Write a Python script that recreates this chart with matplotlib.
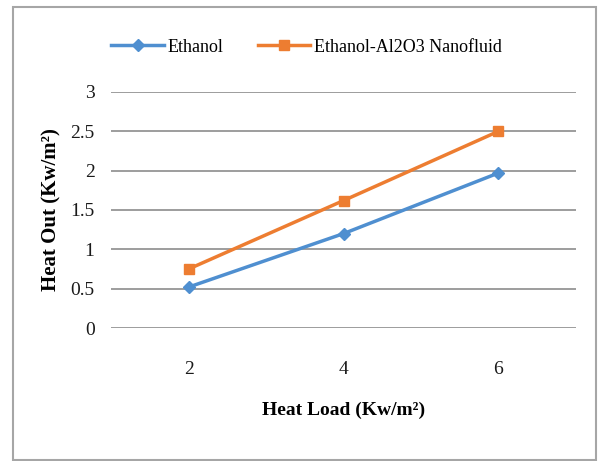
import matplotlib.pyplot as plt
from matplotlib.patches import Rectangle

plt.rcParams['font.family'] = ['Liberation Serif', 'DejaVu Serif']

heat_load = ['2', '4', '6']
ethanol = [0.52, 1.20, 1.97]
nanofluid = [0.75, 1.62, 2.50]

fig = plt.figure(figsize=(5.98, 4.61), dpi=100)
ax = fig.add_axes([0.186, 0.2885, 0.777, 0.512])

# outer chart border
fig.patches.append(Rectangle((13 / 598, 1 / 461), 583 / 598, 453 / 461,
                             transform=fig.transFigure, fill=False,
                             edgecolor='#a6a6a6', linewidth=1.5))

x = range(len(heat_load))
ax.plot(x, ethanol, color='#4f8fd0', linewidth=2.5, marker='D',
        markersize=6.5, label='Ethanol')
ax.plot(x, nanofluid, color='#ed7d31', linewidth=2.5, marker='s',
        markersize=7.5, label='Ethanol-Al2O3 Nanofluid')

ax.set_xlim(-0.5, 2.5)
ax.set_ylim(0, 3)
ax.set_xticks(list(x))
ax.set_xticklabels(heat_load)
ax.set_yticks([0, 0.5, 1, 1.5, 2, 2.5, 3])
ax.set_yticklabels(['0', '0.5', '1', '1.5', '2', '2.5', '3'])
ax.grid(axis='y', color='#8c8c8c', linewidth=1.2)
ax.set_axisbelow(True)
for s in ax.spines.values():
    s.set_visible(False)
ax.tick_params(length=0, labelsize=14, colors='#1a1a1a')
ax.tick_params(axis='x', pad=24)
ax.tick_params(axis='y', pad=12)

ax.set_xlabel('Heat Load (Kw/m²)', fontsize=14, fontweight='bold', labelpad=17)
ax.set_ylabel('Heat Out (Kw/m²)', fontsize=15, fontweight='bold', labelpad=6)

ax.legend(loc='center', bbox_to_anchor=(0.42, 1.19), ncol=2, frameon=False,
          fontsize=13, handlelength=2.9, handletextpad=0.2, columnspacing=1.9)

fig.savefig('out.png', dpi=100)
